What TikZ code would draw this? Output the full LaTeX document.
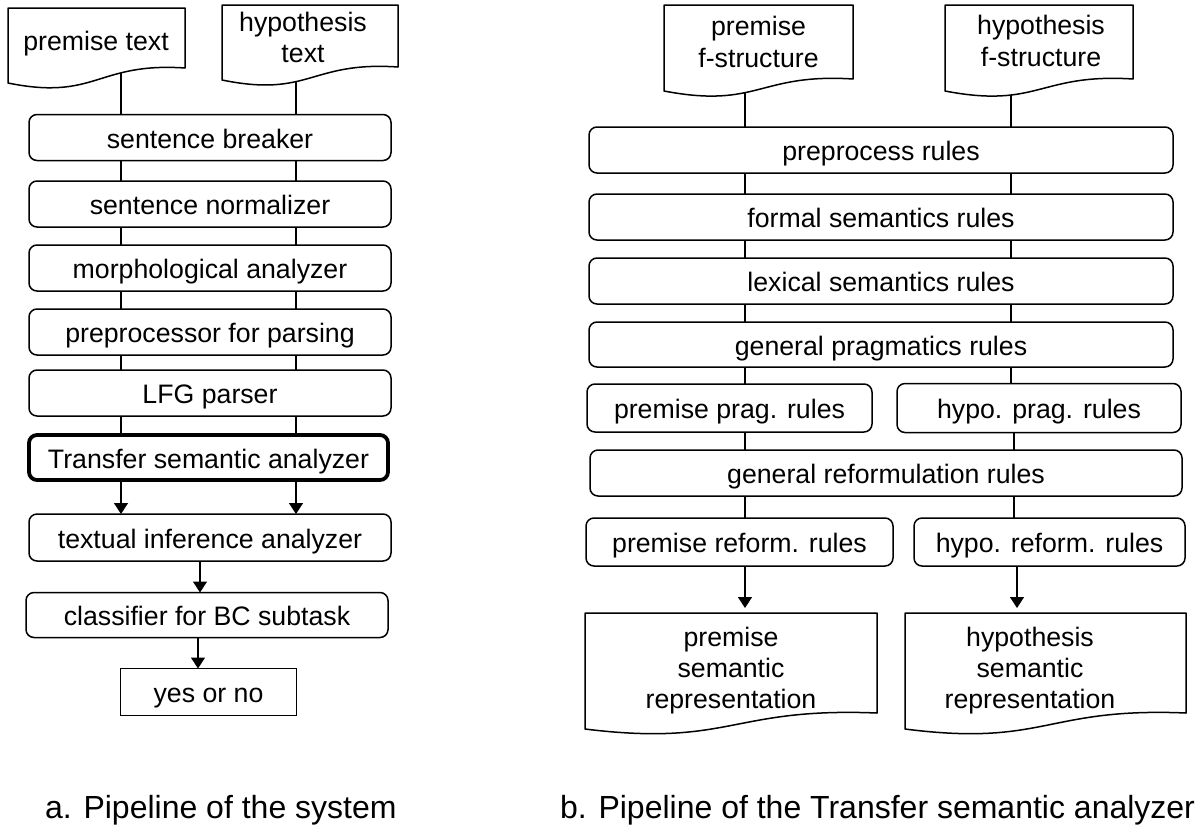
\documentclass[tikz,border=0pt]{standalone}
\usepackage{fontspec}
\setmainfont{Liberation Sans}
\usetikzlibrary{arrows.meta,calc}
\pgfdeclarelayer{bg}
\pgfdeclarelayer{mid}
\pgfsetlayers{bg,mid,main}
\newcommand\docoutline[2]{%
  \begin{pgfonlayer}{mid}
    \draw[docline] (#1.north west) -- (#1.north east) -- (#1.south east)
      .. controls ($(#1.south)+(0,-6)$) and ($(#1.south)+(0,#2+18)$) ..
      ($(#1.south west)+(0,#2)$) -- cycle;
  \end{pgfonlayer}}
\begin{document}
\begin{tikzpicture}[x=1pt,y=-1pt,
  every node/.style={inner sep=0pt, outer sep=0pt},
  box/.style={draw, line width=1.5pt, rounded corners=8pt, fill=white,
    font=\fontsize{26.7}{31}\selectfont, text height=26pt, text depth=5pt},
  sqbox/.style={box, sharp corners},
  thickbox/.style={box, line width=3.8pt},
  docbox/.style={},
  onetext/.style={font=\fontsize{26.7}{31}\selectfont, text height=26pt, text depth=5pt},
  doctext/.style={align=center, font=\fontsize{26.7}{31}\selectfont},
  doctextb/.style={align=center, font=\fontsize{26.7}{32}\selectfont},
  docline/.style={line width=1.5pt, fill=white, line join=round},
  conn/.style={line width=1.3pt},
  arr/.style={conn, -{Triangle[width=14pt,length=11pt]}},
  caption/.style={anchor=base west, font=\fontsize{32}{38}\selectfont}]
\useasboundingbox (0,0) rectangle (1198,825);

% ---------- left pipeline ----------
\node[docbox, minimum width=177pt, minimum height=60pt] (pt) at (96.5,38) {};
\node[docbox, minimum width=176pt, minimum height=62pt] (ht) at (310,36) {};
\docoutline{pt}{15}
\docoutline{ht}{13}
\node[onetext] (ptt) at (96,39.5) {premise text};
\node[doctext] (htt) at (303,37.8) {hypothesis\\text};

\node[box, minimum width=362pt, minimum height=46pt] (sb)  at (210,137.5) {sentence breaker};
\node[box, minimum width=362pt, minimum height=46pt] (sn)  at (210,204) {sentence normalizer};
\node[box, minimum width=362pt, minimum height=46pt] (ma)  at (210,268) {morphological analyzer};
\node[box, minimum width=362pt, minimum height=46pt] (pp)  at (210,332) {preprocessor for parsing};
\node[box, minimum width=362pt, minimum height=46pt] (lfg) at (210,393) {LFG parser};
\node[thickbox, minimum width=359pt, minimum height=45pt] (tsa) at (208.5,457.5) {Transfer semantic analyzer};
\node[box, minimum width=362pt, minimum height=47pt] (tia) at (210,537.5) {textual inference analyzer};
\node[box, minimum width=362pt, minimum height=45pt] (cbc) at (207,615) {classifier for BC subtask};
\node[sqbox, minimum width=176pt, minimum height=47pt] (yon) at (208.5,692) {yes or no};

\coordinate (cA) at (121,0);
\coordinate (cB) at (296,0);
\coordinate (cC) at (200,0);
\coordinate (cD) at (198,0);
\begin{pgfonlayer}{bg}
  \draw[conn] (pt.south -| cA) -- (sb.north -| cA);
  \draw[conn] (ht.south -| cB) -- (sb.north -| cB);
  \foreach \a/\b in {sb/sn, sn/ma, ma/pp, pp/lfg, lfg/tsa} {
    \draw[conn] (\a.south -| cA) -- (\b.north -| cA);
    \draw[conn] (\a.south -| cB) -- (\b.north -| cB);
  }
\end{pgfonlayer}
\draw[arr] (tsa.south -| cA) -- (tia.north -| cA);
\draw[arr] (tsa.south -| cB) -- (tia.north -| cB);
\draw[arr] (tia.south -| cC) -- (cbc.north -| cC);
\draw[arr] (cbc.south -| cD) -- (yon.north -| cD);

% ---------- right pipeline ----------
\node[docbox, minimum width=189pt, minimum height=74pt] (pfs) at (758.5,42) {};
\node[docbox, minimum width=188pt, minimum height=74pt] (hfs) at (1039,42) {};
\docoutline{pfs}{12}
\docoutline{hfs}{12}
\node[doctextb] (pfst) at (758.5,41.5) {premise\\f-structure};
\node[doctextb] (hfst) at (1041,41.3) {hypothesis\\f-structure};

\node[box, minimum width=584pt, minimum height=46pt] (prep) at (881,150) {preprocess rules};
\node[box, minimum width=584pt, minimum height=46pt] (fsr)  at (881,217) {formal semantics rules};
\node[box, minimum width=584pt, minimum height=46pt] (lsr)  at (881,281) {lexical semantics rules};
\node[box, minimum width=584pt, minimum height=45pt] (gpr)  at (881,344.5) {general pragmatics rules};
\node[box, minimum width=285pt, minimum height=48pt] (ppr)  at (729.5,408) {premise prag. rules};
\node[box, minimum width=284pt, minimum height=49pt] (hpr)  at (1039,408) {hypo. prag. rules};
\node[box, minimum width=592pt, minimum height=46pt] (grr)  at (886,473) {general reformulation rules};
\node[box, minimum width=307pt, minimum height=48pt] (prr)  at (739.5,542) {premise reform. rules};
\node[box, minimum width=271pt, minimum height=48pt] (hrr)  at (1049.5,542) {hypo. reform. rules};

\node[docbox, minimum width=292pt, minimum height=100pt] (psr) at (731,663) {};
\node[docbox, minimum width=281pt, minimum height=100pt] (hsr) at (1045.5,663) {};
\docoutline{psr}{16}
\docoutline{hsr}{16}
\node[doctext] (psrt) at (731,670.7) {premise\\semantic\\representation};
\node[doctext] (hsrt) at (1030,670.7) {hypothesis\\semantic\\representation};

\coordinate (cL) at (745,0);
\coordinate (cR) at (1011,0);
\coordinate (cR2) at (1014,0);
\coordinate (cR3) at (1017,0);
\begin{pgfonlayer}{bg}
  \draw[conn] (pfs.south -| cL) -- (prep.north -| cL);
  \draw[conn] (hfs.south -| cR) -- (prep.north -| cR);
  \foreach \a/\b in {prep/fsr, fsr/lsr, lsr/gpr} {
    \draw[conn] (\a.south -| cL) -- (\b.north -| cL);
    \draw[conn] (\a.south -| cR) -- (\b.north -| cR);
  }
  \draw[conn] (gpr.south -| cL) -- (ppr.north -| cL);
  \draw[conn] (gpr.south -| cR) -- (hpr.north -| cR);
  \draw[conn] (ppr.south -| cL) -- (grr.north -| cL);
  \draw[conn] (hpr.south -| cR2) -- (grr.north -| cR2);
  \draw[conn] (grr.south -| cL) -- (prr.north -| cL);
  \draw[conn] (grr.south -| cR2) -- (hrr.north -| cR2);
\end{pgfonlayer}
\draw[arr, shorten >=5pt] (prr.south -| cL) -- (psr.north -| cL);
\draw[arr, shorten >=5pt] (hrr.south -| cR3) -- (hsr.north -| cR3);

% ---------- captions ----------
\node[caption] (capA) at (45,818) {a. Pipeline of the system};
\node[caption] (capB) at (560,818) {b. Pipeline of the Transfer semantic analyzer};
\end{tikzpicture}
\end{document}
